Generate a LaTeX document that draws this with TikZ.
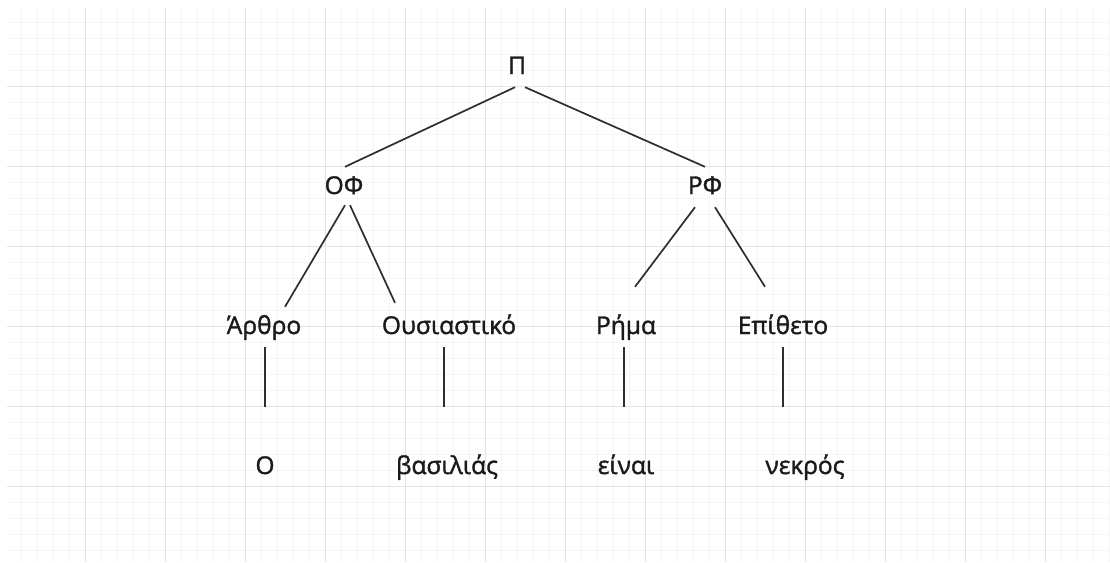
\documentclass[tikz,border=0pt]{standalone}
\usepackage{fontspec}
\setmainfont{Open Sans}[FakeBold=1.5]
\usetikzlibrary{calc}
\definecolor{gridminor}{HTML}{F5F5F5}
\definecolor{gridmajor}{HTML}{E4E4E4}
\definecolor{ink}{HTML}{1A1A1A}
\definecolor{edgecol}{HTML}{2E2E2E}
\begin{document}
\begin{tikzpicture}[x=1pt,y=-1pt,
  word/.style={inner sep=0pt, minimum height=40pt, text height=19pt, text depth=5pt,
    text=ink, font=\fontsize{24.5}{28}\selectfont},
  branch/.style={draw=edgecol, line width=1.7pt}]
\useasboundingbox (0,0) rectangle (1110,562);
\fill[white] (0,0) rectangle (1110,562);
% background grid
\begin{scope}
  \clip (7,8) rectangle (1110,562);
  \foreach \x in {5,21,...,1109} \draw[gridminor, line width=0.8pt] (\x,0) -- (\x,562);
  \foreach \y in {6,22,...,561} \draw[gridminor, line width=0.8pt] (0,\y) -- (1110,\y);
  \foreach \x in {5,85,...,1109} \draw[gridmajor, line width=1pt] (\x,0) -- (\x,562);
  \foreach \y in {6,86,...,561} \draw[gridmajor, line width=1pt] (0,\y) -- (1110,\y);
\end{scope}
% tree nodes
\node[word] (P)   at (517,67)  {Π};
\node[word] (OF)  at (344,187) {ΟΦ};
\node[word] (RF)  at (705,187) {ΡΦ};
\node[word] (Ar)  at (264,327) {Άρθρο};
\node[word] (Ous) at (449,327) {Ουσιαστικό};
\node[word] (Rim) at (626,327) {Ρήμα};
\node[word] (Epi) at (783,327) {Επίθετο};
\node[word] (O)   at (265,467) {Ο};
\node[word] (Bas) at (447,467) {βασιλιάς};
\node[word] (Ein) at (626,467) {είναι};
\node[word] (Nek) at (805,467) {νεκρός};
% branches
\draw[branch] ([xshift=-2pt]P.south) -- ([xshift=1pt]OF.north);
\draw[branch] ([xshift=8pt]P.south) -- (RF.north);
\draw[branch] ([xshift=1pt,yshift=2pt]OF.south) -- ([xshift=21pt]Ar.north);
\draw[branch] ([xshift=6pt,yshift=2pt]OF.south) -- ([xshift=-54pt,yshift=4pt]Ous.north);
\draw[branch] ([xshift=-10pt]RF.south) -- ([xshift=9pt,yshift=20pt]Rim.north);
\draw[branch] ([xshift=10pt]RF.south) -- ([xshift=-18pt,yshift=20pt]Epi.north);
\draw[branch] ([xshift=1pt]Ar.south) -- ([yshift=40pt]O.north);
\draw[branch] ([xshift=-5pt]Ous.south) -- ([xshift=-3pt,yshift=40pt]Bas.north);
\draw[branch] ([xshift=-2pt]Rim.south) -- ([xshift=-2pt,yshift=40pt]Ein.north);
\draw[branch] (Epi.south) -- ([xshift=-22pt,yshift=40pt]Nek.north);
\end{tikzpicture}
\end{document}
